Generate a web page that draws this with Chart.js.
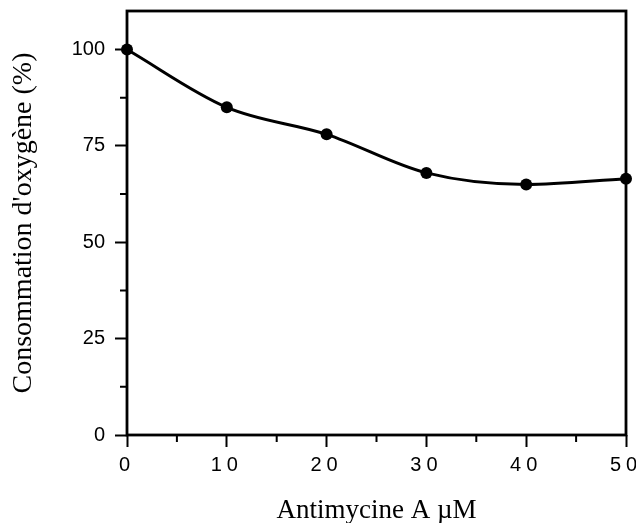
<!DOCTYPE html>
<html>
<head>
<meta charset="utf-8">
<script src="https://cdn.jsdelivr.net/npm/chart.js@4/dist/chart.umd.min.js"></script>
<style>
  html, body { margin: 0; padding: 0; background: #fff; }
  #wrap { width: 636px; height: 523px; }
</style>
</head>
<body>
<div id="wrap"><canvas id="oxyChart"></canvas></div>
<script>
// concentrations (µM) and oxygen consumption (%)
let doses = [0, 10, 20, 30, 40, 50]
let consommation = [100, 85, 78, 68, 65, 66.5]
let yTicks = [0, 25, 50, 75, 100]
let xMinor = [5, 15, 25, 35, 45]
let yMinor = [12.5, 37.5, 62.5, 87.5]

// box round the plot + short minor ticks, spaced digits on the x labels
let frameAndMinor = {
    id: 'frameAndMinor',
    afterDatasetsDraw(chart) {
        chart.ctx.letterSpacing = '5px'
    },
    afterDraw(chart) {
        let ctx = chart.ctx
        let a = chart.chartArea
        let xs = chart.scales.x
        let ys = chart.scales.y
        ctx.letterSpacing = '0px'
        ctx.save()
        ctx.strokeStyle = '#000'
        ctx.lineWidth = 2.8
        ctx.strokeRect(a.left, a.top, a.right - a.left, a.bottom - a.top)
        ctx.lineWidth = 2
        ctx.beginPath()
        for (var v of xMinor) {
            var px = xs.getPixelForValue(v)
            ctx.moveTo(px, a.bottom)
            ctx.lineTo(px, a.bottom + 7)
        }
        for (var v of yMinor) {
            var py = ys.getPixelForValue(v)
            ctx.moveTo(a.left, py)
            ctx.lineTo(a.left - 7, py)
        }
        ctx.stroke()
        ctx.restore()
    }
}

function createLineChart(elementID) {
    var ctx = document.getElementById(elementID)
    return new Chart(ctx, {
        type: 'line',
        data: {
            datasets: [{
                data: doses.map((d, i) => ({ x: d, y: consommation[i] })),
                borderColor: '#000',
                backgroundColor: '#000',
                borderWidth: 3,
                pointRadius: 6,
                pointBackgroundColor: '#000',
                pointBorderWidth: 0,
                cubicInterpolationMode: 'monotone',
                clip: false
            }]
        },
        options: {
            responsive: true,
            maintainAspectRatio: false,
            animation: false,
            layout: { padding: { left: 0, right: 10, top: 11, bottom: 0 } },
            plugins: {
                legend: { display: false },
                tooltip: { enabled: false }
            },
            scales: {
                x: {
                    type: 'linear',
                    min: 0,
                    max: 50,
                    afterFit: (s) => {
                        s.height = 88
                        s.paddingLeft = 0
                        s.paddingRight = 0
                    },
                    ticks: {
                        stepSize: 10,
                        color: '#000',
                        padding: 6,
                        z: 1,
                        font: { family: 'Liberation Sans', size: 20 },
                        maxRotation: 0
                    },
                    grid: {
                        drawOnChartArea: false,
                        tickLength: 12,
                        tickWidth: 2,
                        tickColor: '#000'
                    },
                    border: { display: false },
                    title: {
                        display: true,
                        text: 'Antimycine A µM',
                        color: '#000',
                        font: { family: 'Liberation Serif', size: 27 },
                        padding: { top: 0, bottom: -4 }
                    }
                },
                y: {
                    type: 'linear',
                    min: 0,
                    max: 110,
                    afterFit: (s) => {
                        s.width = 127
                        s.paddingTop = 0
                        s.paddingBottom = 0
                    },
                    afterBuildTicks: (s) => {
                        s.ticks = yTicks.map(v => ({ value: v }))
                    },
                    ticks: {
                        color: '#000',
                        padding: 10,
                        font: { family: 'Liberation Sans', size: 20 }
                    },
                    grid: {
                        drawOnChartArea: false,
                        tickLength: 12,
                        tickWidth: 2,
                        tickColor: '#000'
                    },
                    border: { display: false },
                    title: {
                        display: true,
                        text: "Consommation d'oxygène (%)",
                        color: '#000',
                        font: { family: 'Liberation Serif', size: 28 },
                        padding: { top: 7, bottom: 0 }
                    }
                }
            }
        },
        plugins: [frameAndMinor]
    })
}

createLineChart('oxyChart')
</script>
</body>
</html>
